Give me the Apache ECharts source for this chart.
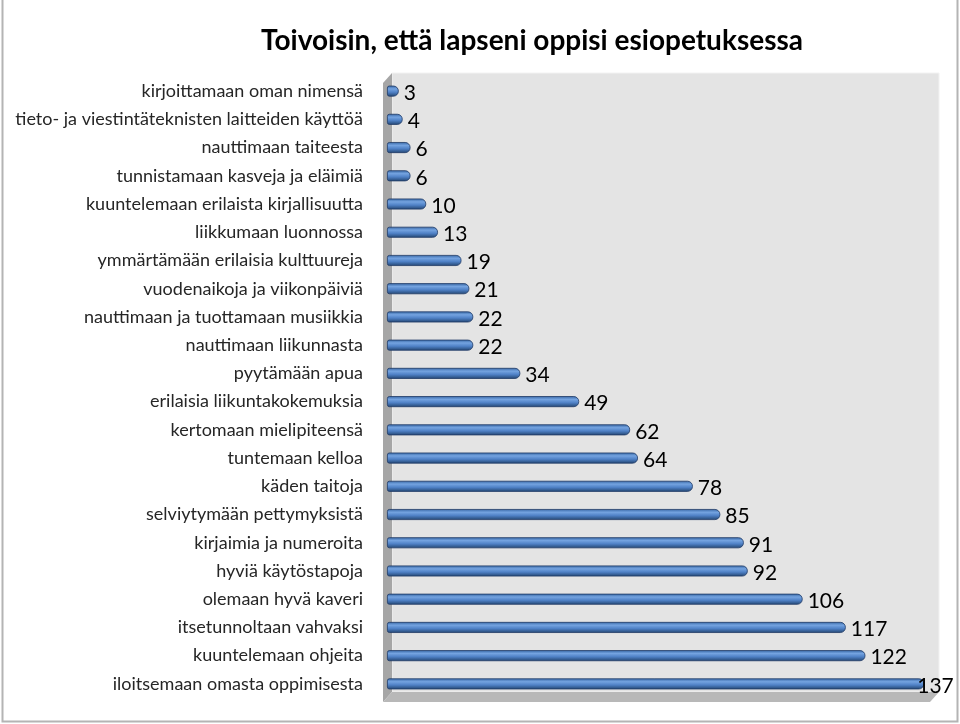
<!DOCTYPE html>
<html>
<head>
<meta charset="utf-8">
<script src="https://cdn.jsdelivr.net/npm/echarts@6/dist/echarts.min.js"></script>
<style>
html,body{margin:0;padding:0;background:#fff;}
#chart{width:960px;height:724px;}
</style>
</head>
<body>
<div id="chart"></div>
<script>
var titleText = 'Toivoisin, että lapseni oppisi esiopetuksessa';
var categories = [
  'kirjoittamaan oman nimensä',
  'tieto- ja viestintäteknisten laitteiden käyttöä',
  'nauttimaan taiteesta',
  'tunnistamaan kasveja ja eläimiä',
  'kuuntelemaan erilaista kirjallisuutta',
  'liikkumaan luonnossa',
  'ymmärtämään erilaisia kulttuureja',
  'vuodenaikoja ja viikonpäiviä',
  'nauttimaan ja tuottamaan musiikkia',
  'nauttimaan liikunnasta',
  'pyytämään apua',
  'erilaisia liikuntakokemuksia',
  'kertomaan mielipiteensä',
  'tuntemaan kelloa',
  'käden taitoja',
  'selviytymään pettymyksistä',
  'kirjaimia ja numeroita',
  'hyviä käytöstapoja',
  'olemaan hyvä kaveri',
  'itsetunnoltaan vahvaksi',
  'kuuntelemaan ohjeita',
  'iloitsemaan omasta oppimisesta'
];
var values = [3, 4, 6, 6, 10, 13, 19, 21, 22, 22, 34, 49, 62, 64, 78, 85, 91, 92, 106, 117, 122, 137];

var chart = echarts.init(document.getElementById('chart'), null, {renderer: 'canvas'});

var barGradient = new echarts.graphic.LinearGradient(0, 0, 0, 1, [
  {offset: 0, color: '#3565a3'},
  {offset: 0.3, color: '#74a3e0'},
  {offset: 0.6, color: '#4f81c6'},
  {offset: 1, color: '#22446f'}
]);

var maxVal = Math.max.apply(null, values);
var seriesData = values.map(function (v) {
  var item = {value: v};
  if (v === maxVal) {
    item.label = {offset: [-12, 2]};
  }
  return item;
});

var option = {
  animation: false,
  backgroundColor: '#ffffff',
  title: {
    text: titleText,
    left: 527,
    textAlign: 'center',
    top: 22,
    textStyle: {fontFamily: 'Lato', fontWeight: 'bold', fontSize: 28, color: '#000'}
  },
  grid: {left: 387, top: 77, width: 549, height: 621, containLabel: false},
  xAxis: {
    type: 'value', min: 0, max: 140,
    show: false
  },
  yAxis: {
    type: 'category', data: categories, inverse: true,
    axisLine: {show: false}, axisTick: {show: false}, splitLine: {show: false},
    axisLabel: {
      margin: 24, fontFamily: 'Lato', fontSize: 18, color: '#262626'
    }
  },
  graphic: [
    {type: 'polyline', z: 0, shape: {points: [[2.5, 0], [2.5, 721.5], [957.5, 721.5], [957.5, 0]]},
      style: {stroke: '#b4b4b4', lineWidth: 2, fill: null}},
    {type: 'rect', z: 0, shape: {x: 392, y: 73, width: 547, height: 619},
      style: {fill: '#e4e4e4', stroke: '#f2f2f2', lineWidth: 1}},
    {type: 'polygon', z: 0, shape: {points: [[383, 83], [392, 73], [392, 692], [383, 702]]},
      style: {fill: '#a6a6a6'}},
    {type: 'polygon', z: 0, shape: {points: [[383, 702], [392, 692], [939, 692], [930, 702]]},
      style: {fill: '#b8b8b8'}}
  ],
  series: [{
    type: 'bar',
    data: seriesData,
    barWidth: 11,
    itemStyle: {color: barGradient, borderColor: '#1f3a66', borderWidth: 0.8, borderRadius: [2, 5, 5, 2]},
    label: {
      show: true, position: 'right', distance: 5, offset: [0, 2],
      fontFamily: 'Lato', fontSize: 21, color: '#000'
    },
    z: 5
  }]
};
chart.setOption(option);
</script>
</body>
</html>
